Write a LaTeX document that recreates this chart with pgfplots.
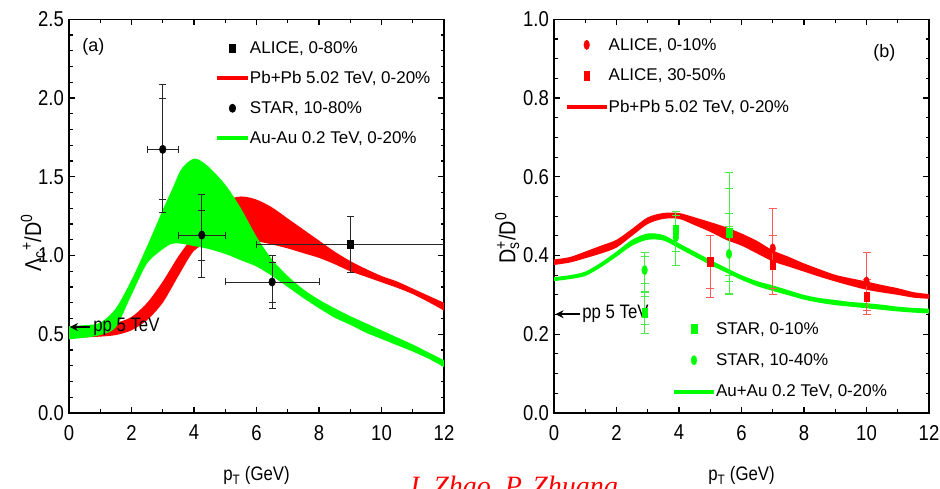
\documentclass[border=0pt]{standalone}
\usepackage{fontspec}
\setmainfont{Liberation Sans}
\newfontfamily\cond[FakeStretch=0.86]{Liberation Sans}
\newfontfamily\serifit{Liberation Serif}
\usepackage{pgfplots}
\usepackage{pgfplotstable}
\pgfplotsset{compat=1.18}
\usepgfplotslibrary{fillbetween}
\usetikzlibrary{arrows.meta}

\definecolor{myred}{RGB}{255,0,0}
\definecolor{mygreen}{RGB}{0,255,0}
\definecolor{errred}{RGB}{255,90,90}
\definecolor{errgreen}{RGB}{70,235,70}

% left panel bands: x lo hi
\pgfplotstableread{
x lo hi
0.0 0.478 0.505
0.5 0.480 0.510
1.0 0.485 0.525
1.5 0.495 0.570
2.0 0.525 0.610
2.5 0.590 0.700
3.0 0.700 0.835
3.5 0.870 0.995
4.0 1.030 1.130
4.5 1.080 1.260
5.0 1.100 1.345
5.5 1.100 1.375
6.0 1.090 1.355
6.5 1.070 1.305
7.0 1.045 1.235
7.5 1.015 1.165
8.0 0.985 1.095
8.5 0.945 1.025
9.0 0.900 0.965
9.5 0.865 0.915
10.0 0.830 0.870
10.5 0.795 0.835
11.0 0.755 0.790
11.5 0.705 0.745
12.0 0.650 0.700
}\redL
\pgfplotstableread{
x lo hi
0.0 0.468 0.552
0.5 0.478 0.558
1.0 0.495 0.573
1.5 0.545 0.665
2.0 0.750 0.845
2.5 0.950 1.060
3.0 1.040 1.290
3.3 1.075 1.420
3.6 1.075 1.550
4.0 1.060 1.615
4.4 1.045 1.575
5.0 1.010 1.450
5.5 0.970 1.300
6.0 0.930 1.120
6.5 0.870 0.975
7.0 0.800 0.870
7.5 0.730 0.785
8.0 0.665 0.720
8.5 0.605 0.665
9.0 0.560 0.615
9.5 0.510 0.570
10.0 0.470 0.525
10.5 0.430 0.480
11.0 0.390 0.435
11.5 0.345 0.385
12.0 0.292 0.335
}\greenL
% right panel bands
\pgfplotstableread{
x lo hi
0.0 0.376 0.390
0.5 0.382 0.396
1.0 0.393 0.410
1.5 0.405 0.425
2.0 0.420 0.440
2.5 0.450 0.468
3.0 0.480 0.497
3.5 0.493 0.508
4.0 0.493 0.508
4.5 0.477 0.497
5.0 0.460 0.485
5.5 0.440 0.472
6.0 0.425 0.456
6.5 0.405 0.437
7.0 0.385 0.413
7.5 0.372 0.397
8.0 0.359 0.380
8.5 0.346 0.365
9.0 0.334 0.351
9.5 0.323 0.342
10.0 0.313 0.334
10.5 0.306 0.325
11.0 0.300 0.317
11.5 0.293 0.307
12.0 0.290 0.302
}\redR
\pgfplotstableread{
x lo hi
0.0 0.335 0.345
0.5 0.340 0.350
1.0 0.348 0.359
1.5 0.370 0.382
2.0 0.397 0.410
2.5 0.425 0.440
3.0 0.440 0.456
3.5 0.438 0.452
4.0 0.418 0.431
4.5 0.397 0.410
5.0 0.376 0.389
5.5 0.357 0.369
6.0 0.338 0.350
6.5 0.322 0.335
7.0 0.310 0.324
7.5 0.299 0.312
8.0 0.288 0.300
8.5 0.280 0.292
9.0 0.274 0.287
9.5 0.270 0.282
10.0 0.266 0.279
10.5 0.262 0.275
11.0 0.258 0.270
11.5 0.255 0.267
12.0 0.253 0.265
}\greenR

\pgfplotsset{
  panel/.style={
    scale only axis, width=375pt, height=393.7pt,
    xmin=0, xmax=12, xtick={0,2,...,12}, minor x tick num=1,
    tick align=inside,
    axis line style={line width=1.3pt},
    every tick/.style={line width=1.1pt, black},
    major tick length=6pt, minor tick length=3.5pt,
    ticklabel style={font=\cond\fontsize{21.5}{21.5}\selectfont},
    /pgf/number format/assume math mode=true,
    xticklabel style={inner sep=0pt, yshift=-12pt},
    yticklabel style={inner sep=0pt, xshift=-5pt,
      /pgf/number format/.cd, fixed, fixed zerofill, precision=1},
    xlabel style={font=\cond\fontsize{19.5}{19.5}\selectfont},
    ylabel style={font=\cond\fontsize{23}{23}\selectfont},
    xlabel={p\textsubscript{T} (GeV)},
    xlabel style={at={(axis description cs:0.5,0)}, anchor=base, yshift=-68pt},
    legend cell align=left,
  },
  lgd/.style={draw=none, fill=none, inner sep=0pt, outer sep=0pt,
    font=\fontsize{17}{17}\selectfont, nodes={inner sep=0pt}},
  error bars/eb/.style={error bar style={line width=0.9pt, #1},
    error mark options={rotate=90, mark size=3.5pt, line width=0.9pt, #1}},
  error bars/ebc/.style={error bar style={line width=0.8pt, #1},
    error mark options={rotate=90, mark size=4pt, line width=0.8pt, #1}},
}

\begin{document}
\begin{tikzpicture}

% ---------------- left panel ----------------
\begin{axis}[panel, at={(69pt,76pt)}, anchor=south west,
  ymin=0, ymax=2.5, ytick={0,0.5,...,2.5}, minor y tick num=4,
  ylabel={Λ\textsubscript{c}\textsuperscript{+}/D\textsuperscript{0}},
  ylabel style={at={(axis description cs:-0.096,0.432)}, anchor=center},
  legend image code/.code={\draw[mark repeat=2,mark phase=2,#1] plot coordinates {(0pt,0pt)(15.5pt,0pt)(31pt,0pt)};},
  legend style={lgd, at={(axis description cs:0.3893,0.9439)}, anchor=north west, row sep=16.5pt},
]
\addlegendimage{only marks, mark=square*, black, mark size=4.2pt, mark options={xscale=0.68}}
\addlegendentry{ALICE, 0-80\%}
\addlegendimage{myred, line width=4pt}
\addlegendentry{Pb+Pb 5.02 TeV, 0-20\%}
\addlegendimage{only marks, mark=*, black, mark size=4.2pt, mark options={xscale=0.8}}
\addlegendentry{STAR, 10-80\%}
\addlegendimage{mygreen, line width=4pt}
\addlegendentry{Au-Au 0.2 TeV, 0-20\%}

\addplot[draw=none, smooth, name path=rlo, forget plot] table[x=x, y=lo] {\redL};
\addplot[draw=none, smooth, name path=rhi, forget plot] table[x=x, y=hi] {\redL};
\addplot[myred, draw=none, forget plot] fill between[of=rhi and rlo];
\addplot[draw=none, smooth, name path=glo, forget plot] table[x=x, y=lo] {\greenL};
\addplot[draw=none, smooth, name path=ghi, forget plot] table[x=x, y=hi] {\greenL};
\addplot[mygreen, draw=none, forget plot] fill between[of=ghi and glo];

% ALICE 0-80%
\addplot[forget plot, only marks, mark=square*, black, mark size=4.2pt, mark options={xscale=0.68},
  error bars/.cd, x dir=both, x explicit, y dir=both, y explicit, eb=black!85]
  coordinates {(9,1.07) += (3,0.18) -= (3,0.18)};
% STAR 10-80% outer errors
\addplot[forget plot, only marks, mark=*, black, mark size=4.2pt, mark options={xscale=0.8},
  error bars/.cd, x dir=both, x explicit, y dir=both, y explicit, eb=black!85]
  coordinates {
  (3.0,1.674) += (0.5,0.41) -= (0.5,0.40)
  (4.25,1.13) += (0.75,0.26) -= (0.75,0.267)
  (6.5,0.832) += (1.5,0.169) -= (1.5,0.167)
  };
% STAR inner errors
\addplot[forget plot, only marks, mark=none, black,
  error bars/.cd, y dir=both, y explicit, eb=black!85]
  coordinates {
  (3.0,1.674) += (0,0.325) -= (0,0.317)
  (4.25,1.13) += (0,0.157) -= (0,0.159)
  (6.5,0.832) += (0,0.122) -= (0,0.132)
  };

\node[font=\fontsize{18}{18}\selectfont] at (rel axis cs:0.0648,0.930) {(a)};
\draw[-{Stealth[length=8pt,width=8pt]}, line width=1.6pt] (axis cs:0.67,0.546) -- (axis cs:0.03,0.546);
\node[anchor=west, inner sep=0pt, font=\cond\fontsize{19.5}{19.5}\selectfont] at (axis cs:0.77,0.546) {pp 5 TeV};
\end{axis}

% ---------------- right panel ----------------
\begin{axis}[panel, at={(554pt,76pt)}, anchor=south west,
  ymin=0, ymax=1, ytick={0,0.2,...,1.0}, minor y tick num=3,
  ylabel={D\rlap{\textsubscript{s}}\textsuperscript{+}/D\textsuperscript{0}},
  ylabel style={at={(axis description cs:-0.125,0.444)}, anchor=center},
  legend image code/.code={\draw[mark repeat=2,mark phase=2,#1] plot coordinates {(0pt,0pt)(20pt,0pt)(40pt,0pt)};},
  legend style={lgd, at={(axis description cs:0.0285,0.952)}, anchor=north west, row sep=17.5pt},
]
\addlegendimage{only marks, mark=*, myred, mark size=4.7pt, mark options={xscale=0.6}}
\addlegendentry{ALICE, 0-10\%}
\addlegendimage{only marks, mark=square*, myred, mark size=4.5pt, mark options={xscale=0.6}}
\addlegendentry{ALICE, 30-50\%}
\addlegendimage{myred, line width=4pt}
\addlegendentry{Pb+Pb 5.02 TeV, 0-20\%}

\addplot[draw=none, smooth, name path=rlo, forget plot] table[x=x, y=lo] {\redR};
\addplot[draw=none, smooth, name path=rhi, forget plot] table[x=x, y=hi] {\redR};
\addplot[myred, draw=none, forget plot] fill between[of=rhi and rlo];
\addplot[draw=none, smooth, name path=glo, forget plot] table[x=x, y=lo] {\greenR};
\addplot[draw=none, smooth, name path=ghi, forget plot] table[x=x, y=hi] {\greenR};
\addplot[mygreen, draw=none, forget plot] fill between[of=ghi and glo];

% STAR 0-10% (green squares)
\addplot[forget plot, only marks, mark=square*, mygreen, mark size=4.5pt, mark options={xscale=0.6},
  error bars/.cd, y dir=both, y explicit, ebc=errgreen]
  coordinates {
  (2.9,0.255) += (0,0.052) -= (0,0.052)
  (3.9,0.465) += (0,0.046) -= (0,0.089)
  (5.6,0.458) += (0,0.152) -= (0,0.154)
  };
\addplot[forget plot, only marks, mark=none, mygreen,
  error bars/.cd, y dir=both, y explicit, ebc=errgreen]
  coordinates {
  (2.9,0.255) += (0,0.040) -= (0,0.030)
  (5.6,0.458) += (0,0.113) -= (0,0.108)
  };
% STAR 10-40% (green circles)
\addplot[forget plot, only marks, mark=*, mygreen, mark size=4.7pt, mark options={xscale=0.6},
  error bars/.cd, y dir=both, y explicit, ebc=errgreen]
  coordinates {
  (2.9,0.363) += (0,0.044) -= (0,0.055)
  (3.9,0.447) += (0,0.056) -= (0,0.037)
  (5.6,0.404) += (0,0.103) -= (0,0.103)
  };
\addplot[forget plot, only marks, mark=none, mygreen,
  error bars/.cd, y dir=both, y explicit, ebc=errgreen]
  coordinates {
  (2.9,0.363) += (0,0.034) -= (0,0.034)
  (5.6,0.404) += (0,0.070) -= (0,0.070)
  };
% ALICE 30-50% (red squares)
\addplot[forget plot, only marks, mark=square*, myred, mark size=4.5pt, mark options={xscale=0.6},
  error bars/.cd, y dir=both, y explicit, ebc=errred]
  coordinates {
  (5,0.384) += (0,0.068) -= (0,0.090)
  (7,0.376) += (0,0.075) -= (0,0.075)
  (10,0.295) += (0,0.045) -= (0,0.045)
  };
\addplot[forget plot, only marks, mark=none, myred,
  error bars/.cd, y dir=both, y explicit, ebc=errred]
  coordinates {
  (5,0.384) += (0,0.068) -= (0,0.067)
  };
% ALICE 0-10% (red circles)
\addplot[forget plot, only marks, mark=*, myred, mark size=4.7pt, mark options={xscale=0.6},
  error bars/.cd, y dir=both, y explicit, ebc=errred]
  coordinates {
  (7,0.418) += (0,0.102) -= (0,0.102)
  (10,0.334) += (0,0.073) -= (0,0.073)
  };

\node[font=\fontsize{18}{18}\selectfont] at (rel axis cs:0.881,0.9144) {(b)};
\draw[-{Stealth[length=8pt,width=8pt]}, line width=1.6pt] (axis cs:0.83,0.251) -- (axis cs:0.05,0.251);
\node[anchor=west, inner sep=0pt, font=\cond\fontsize{19.5}{19.5}\selectfont] at (axis cs:0.9,0.251) {pp 5 TeV};
\end{axis}

% second legend of right panel
\begin{axis}[scale only axis, width=375pt, height=393.7pt, at={(554pt,76pt)}, anchor=south west,
  hide axis, xmin=0, xmax=12, ymin=0, ymax=1, legend cell align=left,
  legend image code/.code={\draw[mark repeat=2,mark phase=2,#1] plot coordinates {(0pt,0pt)(20pt,0pt)(40pt,0pt)};},
  legend style={lgd, at={(axis description cs:0.3147,0.2306)}, anchor=north west, row sep=18pt},
]
\addplot[draw=none, forget plot] coordinates {(0,0) (12,1)};
\addlegendimage{only marks, mark=square*, mygreen, mark size=4.5pt, mark options={xscale=0.6}}
\addlegendentry{STAR, 0-10\%}
\addlegendimage{only marks, mark=*, mygreen, mark size=4.7pt, mark options={xscale=0.6}}
\addlegendentry{STAR, 10-40\%}
\addlegendimage{mygreen, line width=4pt}
\addlegendentry{Au+Au 0.2 TeV, 0-20\%}
\end{axis}

\node[anchor=base west, inner sep=0pt, text=myred, font=\serifit\itshape\fontsize{28}{28}\selectfont] at (406.7pt,-6.2pt) {J. Zhao, P. Zhuang};
\pgfresetboundingbox
\path[use as bounding box] (0,0) rectangle (940pt,489pt);
\end{tikzpicture}
\end{document}
